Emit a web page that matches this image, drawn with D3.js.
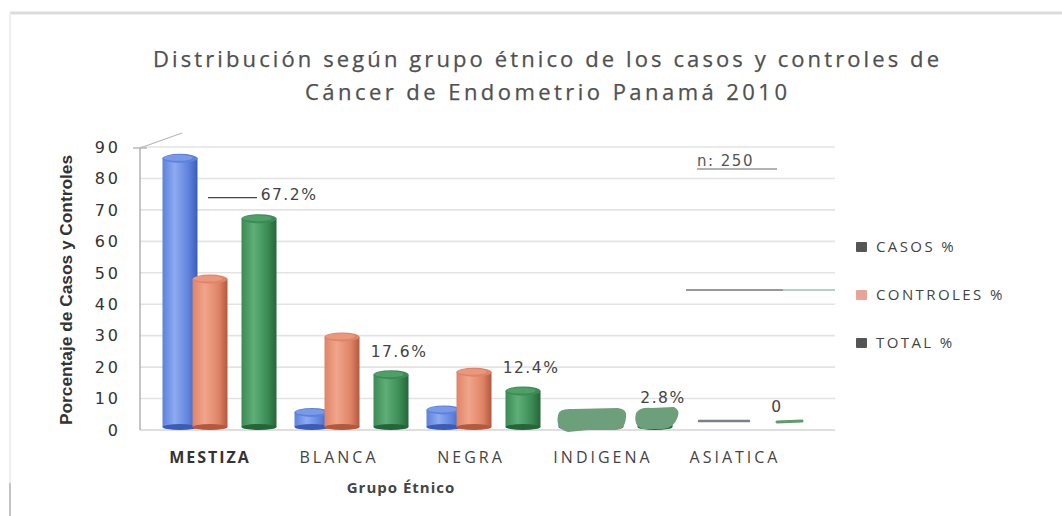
<!DOCTYPE html>
<html><head><meta charset="utf-8">
<script src="https://cdn.jsdelivr.net/npm/d3@7"></script>
<style>html,body{margin:0;padding:0;background:#fff;}svg{display:block;}</style>
</head><body>
<svg id="c" width="1062" height="516"></svg>
<script>
const categories = ["MESTIZA","BLANCA","NEGRA","INDIGENA","ASIATICA"];
const series = ["CASOS %","CONTROLES %","TOTAL %"];
const casos = [86.4, 5.6, 6.4, 1.6, 0];
const controles = [48, 29.6, 18.4, 4, 0];
const total = [67.2, 17.6, 12.4, 2.8, 0];
const totalLabels = ["67.2%","17.6%","12.4%","2.8%","0"];
const yTicks = [0,10,20,30,40,50,60,70,80,90];
const titleLines = ["Distribución según grupo étnico de los casos y controles de","Cáncer de Endometrio Panamá 2010"];

const svg = d3.select("#c");
const values = [casos, controles, total];
const y = d3.scaleLinear().domain([0,90]).range([430,147]);
const x0 = d3.scaleBand().domain(categories).range([144,804]);
const x1 = d3.scaleOrdinal().domain(series).range([-30, 0, 49]);
const barW = 35;
const cx = (c, s) => x0(c) + x0.bandwidth()/2 + x1(s);

const defs = svg.append("defs");
const pal = {
  "CASOS %": ["#8eaaf0","#5d82dc","#3a5cb8"],
  "CONTROLES %": ["#f0a58c","#df8466","#b4583e"],
  "TOTAL %": ["#5fae78","#3b8b54","#26653a"]
};
series.forEach((s,i)=>{
  const g = defs.append("linearGradient").attr("id","g"+i).attr("x1","0").attr("x2","1").attr("y1","0").attr("y2","0");
  g.append("stop").attr("offset","0").attr("stop-color",pal[s][1]);
  g.append("stop").attr("offset","0.35").attr("stop-color",pal[s][0]);
  g.append("stop").attr("offset","0.75").attr("stop-color",pal[s][1]);
  g.append("stop").attr("offset","1").attr("stop-color",pal[s][2]);
});
const blur = defs.append("filter").attr("id","bl").attr("filterUnits","userSpaceOnUse")
  .attr("x",0).attr("y",0).attr("width",1062).attr("height",516);
blur.append("feGaussianBlur").attr("stdDeviation","0.6");

// frame
svg.append("line").attr("x1",10).attr("x2",1062).attr("y1",13).attr("y2",13).attr("stroke","#dcdcdc").attr("stroke-width",3).attr("filter","url(#bl)");
svg.append("line").attr("x1",10).attr("x2",10).attr("y1",13).attr("y2",516).attr("stroke","#efefef").attr("stroke-width",2);
svg.append("line").attr("x1",10).attr("x2",10).attr("y1",483).attr("y2",516).attr("stroke","#9a9a9a").attr("stroke-width",1);

// title
svg.selectAll("text.title").data(titleLines).join("text")
  .attr("x",546).attr("y",(d,i)=>67+i*33).attr("text-anchor","middle")
  .attr("font-family","Open Sans").attr("font-size",22).attr("fill","#505050")
  .attr("stroke","#505050").attr("stroke-width",0.25)
  .attr("textLength",(d,i)=> i===0 ? 786 : 482).attr("lengthAdjust","spacing")
  .text(d=>d);

// gridlines
const grid = svg.append("g").attr("filter","url(#bl)");
grid.selectAll("line").data(yTicks).join("line")
  .attr("x1",140).attr("x2",835).attr("y1",d=>y(d)).attr("y2",d=>y(d))
  .attr("stroke",d=> d===0 ? "#d4d4d4" : "#e3e3e3").attr("stroke-width",1.6);

// axis
svg.append("line").attr("x1",140).attr("x2",140).attr("y1",y(90)+1).attr("y2",y(0)).attr("stroke","#a8a8a8").attr("stroke-width",1.3);
svg.append("line").attr("x1",133).attr("x2",147).attr("y1",y(90)+1).attr("y2",y(90)+1).attr("stroke","#a8a8a8").attr("stroke-width",1.2);
svg.append("line").attr("x1",140).attr("x2",182).attr("y1",y(90)+1).attr("y2",y(90)-14).attr("stroke","#b8b8b8").attr("stroke-width",1.2);
svg.selectAll("text.yt").data(yTicks).join("text")
  .attr("x",121).attr("y",d=>y(d)).attr("dy","0.36em").attr("text-anchor","end")
  .attr("font-family","DejaVu Sans").attr("font-size",16).attr("letter-spacing",3).attr("fill","#333")
  .text(d=>d);
svg.append("text").attr("transform","translate(72,290) rotate(-90)").attr("text-anchor","middle")
  .attr("font-family","Liberation Sans Narrow, Liberation Sans").attr("font-weight","bold").attr("font-size",16.5)
  .attr("fill","#333").attr("textLength",270).attr("lengthAdjust","spacingAndGlyphs")
  .text("Porcentaje  de Casos y Controles");

// bars
const bars = svg.append("g");
categories.forEach((c,ci)=>{
  series.forEach((s,si)=>{
    const v = values[si][ci];
    const xc = cx(c,s);
    const g = bars.append("g");
    const top = y(v), base = y(0) - 3;
    if (v > 0) {
      g.append("rect").attr("x",xc-barW/2).attr("y",top).attr("width",barW).attr("height",Math.max(0,base-top))
        .attr("fill","url(#g"+si+")");
      g.append("ellipse").attr("cx",xc).attr("cy",base).attr("rx",barW/2).attr("ry",3).attr("fill",pal[s][2]);
      g.append("ellipse").attr("cx",xc).attr("cy",top).attr("rx",barW/2).attr("ry",4.5).attr("fill",pal[s][1]);
      g.append("ellipse").attr("cx",xc-2).attr("cy",top-0.5).attr("rx",barW/2-3).attr("ry",3).attr("fill",pal[s][0]).attr("opacity",0.6);
    }
  });
});
// zero-height ASIATICA discs
const zc = categories[4];
bars.append("line").attr("x1",cx(zc,series[0])-9).attr("x2",cx(zc,series[1])+11).attr("y1",y(0)-9).attr("y2",y(0)-9)
  .attr("stroke","#7a7f90").attr("stroke-width",2.5).attr("stroke-linecap","round").attr("filter","url(#bl)");
bars.append("line").attr("x1",cx(zc,series[2])-10).attr("x2",cx(zc,series[2])+15).attr("y1",y(0)-8).attr("y2",y(0)-9)
  .attr("stroke","#5f9a70").attr("stroke-width",3).attr("stroke-linecap","round");

// green highlighter blobs over INDIGENA
const ic = categories[3];
const blob = svg.append("g").attr("fill","#6e9f7b");
blob.append("path").attr("d",()=>{
  const l = cx(ic,series[0])-18, r = cx(ic,series[1])+20, t = y(0)-22, b = y(0)+2;
  return `M${l},${t+7} Q${l+1},${t} ${l+15},${t+1} L${r-8},${t} Q${r+1},${t+1} ${r},${t+8} Q${r},${b-2} ${r-12},${b-2} L${l+30},${b-2} L${l+10},${b} Q${l-3},${b-3} ${l},${t+7} Z`;
});
blob.append("path").attr("d",()=>{
  const l = cx(ic,series[2])-20, r = cx(ic,series[2])+24, t = y(0)-23, b = y(0)-1;
  return `M${l+1},${t+6} Q${l+5},${t} ${l+16},${t+1} L${r-5},${t} Q${r+1},${t+3} ${r-1},${t+9} Q${r-5},${b} ${r-18},${b} L${l+8},${b} Q${l-2},${b-3} ${l+1},${t+6} Z`;
});

// data labels for TOTAL
svg.selectAll("text.dl").data(total).join("text")
  .attr("x",(d,i)=> cx(categories[i],series[2]) + (i===0 ? 30 : (i===4 ? -10 : 8)))
  .attr("y",(d,i)=> y(d) - (i===0 ? 19 : 18))
  .attr("text-anchor","middle")
  .attr("font-family","DejaVu Sans").attr("font-size",15.5).attr("letter-spacing",1.5).attr("fill","#444")
  .text((d,i)=>totalLabels[i]);
svg.append("line").attr("x1",cx(categories[0],series[1])-2).attr("x2",cx(categories[0],series[2])-2)
  .attr("y1",y(total[0])-21).attr("y2",y(total[0])-21).attr("stroke","#444").attr("stroke-width",1.2);

// x labels
svg.selectAll("text.xl").data(categories).join("text")
  .attr("x",(d,i)=> x0(d)+x0.bandwidth()/2 + (i===0 ? 0 : -3)).attr("y",463).attr("text-anchor","middle")
  .attr("font-family","Open Sans").attr("font-size",16)
  .attr("letter-spacing",(d,i)=> i===0 ? 2 : 3)
  .attr("font-weight",(d,i)=> i===0 ? "bold" : "normal").attr("fill",(d,i)=> i===0 ? "#333" : "#444")
  .text(d=>d);
svg.append("text").attr("x",401).attr("y",493).attr("text-anchor","middle")
  .attr("font-family","Open Sans").attr("font-weight","bold").attr("font-size",15).attr("letter-spacing",1).attr("fill","#444")
  .text("Grupo Étnico");

// n: 250 annotation
svg.append("text").attr("x",697).attr("y",166).attr("font-family","DejaVu Sans").attr("font-size",15).attr("letter-spacing",1.5).attr("fill","#555").text("n: 250");
svg.append("line").attr("x1",697).attr("x2",777).attr("y1",169).attr("y2",169).attr("stroke","#666").attr("stroke-width",1);
svg.append("line").attr("x1",686).attr("x2",783).attr("y1",290).attr("y2",290).attr("stroke","#333").attr("stroke-width",1.2);
svg.append("line").attr("x1",783).attr("x2",835).attr("y1",290).attr("y2",290).attr("stroke","#6aa57a").attr("stroke-width",1.2);

// legend
const legColors = ["#555","#e8a595","#555"];
const leg = svg.selectAll("g.leg").data(series).join("g").attr("transform",(d,i)=>`translate(856,${247+i*48})`);
leg.append("rect").attr("x",0).attr("y",-5).attr("width",11).attr("height",10).attr("rx",1).attr("fill",(d,i)=>legColors[i]);
leg.append("text").attr("x",20).attr("y",0).attr("dy","0.36em").attr("font-family","Open Sans").attr("font-size",15)
  .attr("letter-spacing",2.4).attr("fill","#444").text(d=>d);
</script>
</body></html>
